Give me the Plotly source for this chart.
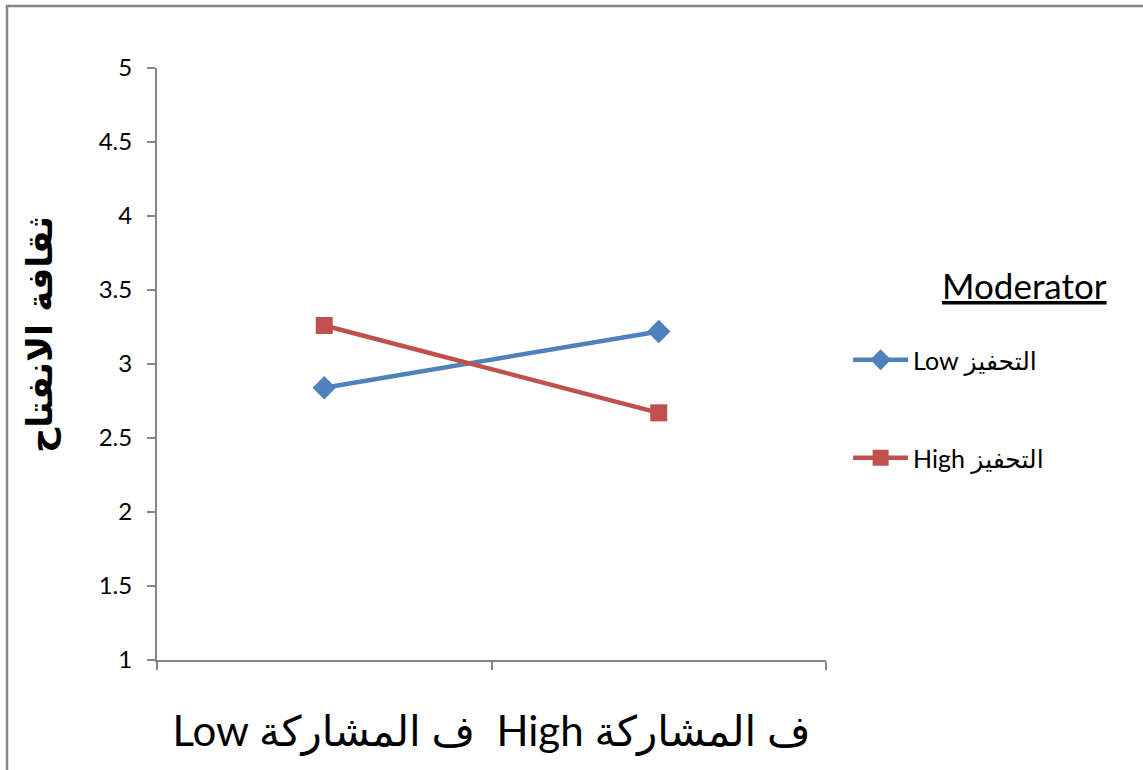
import plotly.graph_objects as go

# Interaction plot: openness culture by participation level and motivation moderator
categories = ["Low", "High"]
low_motivation = [2.84, 3.22]
high_motivation = [3.26, 2.67]

series_names = ["Low التحفيز", "High التحفيز"]
y_ticks = [1, 1.5, 2, 2.5, 3, 3.5, 4, 4.5, 5]
y_tick_text = ["1", "1.5", "2", "2.5", "3", "3.5", "4", "4.5", "5"]

x_title = "Low ف المشاركة  High ف المشاركة"
y_title = "ثقافة الانفتاح"
legend_title = "Moderator"

BLUE = "#4F81BD"
RED = "#C0504D"
AXIS = "#868686"
FONT = "Lato, DejaVu Sans, sans-serif"

# plot area in pixels (left, right, top, bottom)
L, R, T, B = 157, 826, 68, 660
W, H = R - L, B - T

fig = go.Figure()
fig.add_trace(go.Scatter(
    x=categories, y=low_motivation, name=series_names[0],
    mode="lines+markers",
    line=dict(color=BLUE, width=4.5),
    marker=dict(symbol="diamond", size=18, color=BLUE),
    legend="legend", showlegend=True,
))
fig.add_trace(go.Scatter(
    x=categories, y=high_motivation, name=series_names[1],
    mode="lines+markers",
    line=dict(color=RED, width=4.5),
    marker=dict(symbol="square", size=17, color=RED),
    legend="legend2", showlegend=True,
))

legend_style = dict(
    xref="container", yref="container", xanchor="left", yanchor="middle",
    font=dict(family=FONT, size=25, color="black"),
    bgcolor="rgba(0,0,0,0)", itemwidth=55,
)

fig.update_layout(
    width=1143, height=770,
    margin=dict(l=L, r=1143 - R, t=T, b=770 - B),
    paper_bgcolor="white", plot_bgcolor="white",
    font=dict(family=FONT, color="black"),
    showlegend=True,
    xaxis=dict(
        type="category", range=[-0.5, 1.5],
        tickson="boundaries", ticks="outside", ticklen=8, tickwidth=2,
        tickcolor=AXIS, showticklabels=False,
        showline=True, linecolor=AXIS, linewidth=2,
        showgrid=False, zeroline=False,
        title=dict(text=x_title, font=dict(family=FONT, size=42), standoff=56),
    ),
    yaxis=dict(
        range=[1, 5], tickvals=y_ticks, ticktext=y_tick_text,
        ticks="outside", ticklen=8, tickwidth=2, tickcolor=AXIS,
        tickfont=dict(family=FONT, size=24, color="black"),
        ticklabelstandoff=10,
        showline=True, linecolor=AXIS, linewidth=2,
        showgrid=False, zeroline=False,
    ),
    legend=dict(x=0.742, y=1 - 360 / 770, **legend_style),
    legend2=dict(x=0.742, y=1 - 458 / 770, **legend_style),
    annotations=[
        dict(
            text="<u>" + legend_title + "</u>", xref="paper", yref="paper",
            x=(1024 - L) / W, y=(B - 285) / H,
            xanchor="center", yanchor="middle", showarrow=False,
            font=dict(family=FONT, size=35, color="black"),
        ),
        dict(
            text="<b>" + y_title + "</b>", xref="paper", yref="paper",
            x=(40 - L) / W, y=(B - 335) / H, textangle=-90,
            xanchor="center", yanchor="middle", showarrow=False,
            font=dict(family="DejaVu Sans, sans-serif", size=35, color="black"),
        ),
    ],
    shapes=[dict(
        type="rect", xref="paper", yref="paper",
        x0=(7 - L) / W, x1=(1160 - L) / W,
        y0=(B - 790) / H, y1=(B - 6) / H,
        line=dict(color=AXIS, width=2.5), layer="below",
    )],
)

fig.write_html("out.html")
